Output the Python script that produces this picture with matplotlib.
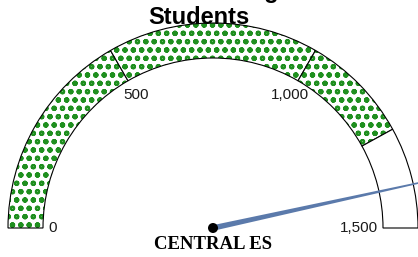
import numpy as np
import matplotlib
matplotlib.use("Agg")
import matplotlib.pyplot as plt
from matplotlib.patches import Wedge, Polygon, Circle

# gauge data
school = "CENTRAL ES"
title_lines = ["Enrollment Target", "Students"]
gauge_min = 0
gauge_max = 1500
band_edges = [0, 500, 1000, 1260]   # green (filled) segments
empty_band = [1260, 1500]           # unfilled part of the scale
tick_values = [0, 500, 1000, 1500]
tick_labels = ["0", "500", "1,000", "1,500"]
needle_value = 1397

plt.rcParams['hatch.linewidth'] = 1.5

fig = plt.figure(figsize=(4.18, 2.57), dpi=100)
ax = fig.add_axes([0, 0, 1, 1])
ax.set_xlim(0, 418)
ax.set_ylim(0, 257)
ax.axis('off')

cx, cy = 213, 29
r_out, r_in = 205, 170
green = '#1f8f1f'


def ang(v):
    return 180 - (v - gauge_min) / (gauge_max - gauge_min) * 180


# filled segments with dotted pattern
for a, b in zip(band_edges[:-1], band_edges[1:]):
    ax.add_patch(Wedge((cx, cy), r_out, ang(b), ang(a), width=r_out - r_in,
                       facecolor='white', edgecolor=green, hatch='oo', lw=0))
    ax.add_patch(Wedge((cx, cy), r_out, ang(b), ang(a), width=r_out - r_in,
                       fill=False, edgecolor='black', lw=0.8))

# empty segment
ax.add_patch(Wedge((cx, cy), r_out, ang(empty_band[1]), ang(empty_band[0]),
                   width=r_out - r_in, facecolor='white', edgecolor='black', lw=0.8))

# tick labels
for v, lab in zip(tick_values, tick_labels):
    t = np.radians(ang(v))
    if v == gauge_min:
        ax.text(cx + 165 * np.cos(t), cy + 165 * np.sin(t), lab, ha='left', va='center',
                fontsize=11, family='Liberation Sans', color='#1a1a1a')
    elif v == gauge_max:
        ax.text(cx + 165 * np.cos(t), cy + 165 * np.sin(t), lab, ha='right', va='center',
                fontsize=11, family='Liberation Sans', color='#1a1a1a')
    else:
        ax.text(cx + 153 * np.cos(t), cy + 153 * np.sin(t), lab, ha='center', va='center',
                fontsize=11, family='Liberation Sans', color='#1a1a1a')

# needle (tapered)
t = np.radians(ang(needle_value))
L = 225
ux, uy = np.cos(t), np.sin(t)
px, py = -uy, ux
w0, w1 = 2.8, 0.7
needle = Polygon([(cx + px * w0, cy + py * w0),
                  (cx + ux * L + px * w1, cy + uy * L + py * w1),
                  (cx + ux * L - px * w1, cy + uy * L - py * w1),
                  (cx - px * w0, cy - py * w0)],
                 closed=True, facecolor='#5b7aab', edgecolor='none', zorder=5)
ax.add_patch(needle)
ax.add_patch(Circle((cx, cy), 5, facecolor='black', edgecolor='none', zorder=6))

# labels
ax.text(cx, 12.5, school, ha='center', va='center', fontsize=13.5,
        family='Liberation Serif', fontweight='bold')
ax.text(199, 259, title_lines[0], ha='center', va='baseline', fontsize=17,
        family='Liberation Sans', fontweight='bold')
ax.text(199, 233, title_lines[1], ha='center', va='baseline', fontsize=17,
        family='Liberation Sans', fontweight='bold')

fig.savefig('out.png', dpi=100)
